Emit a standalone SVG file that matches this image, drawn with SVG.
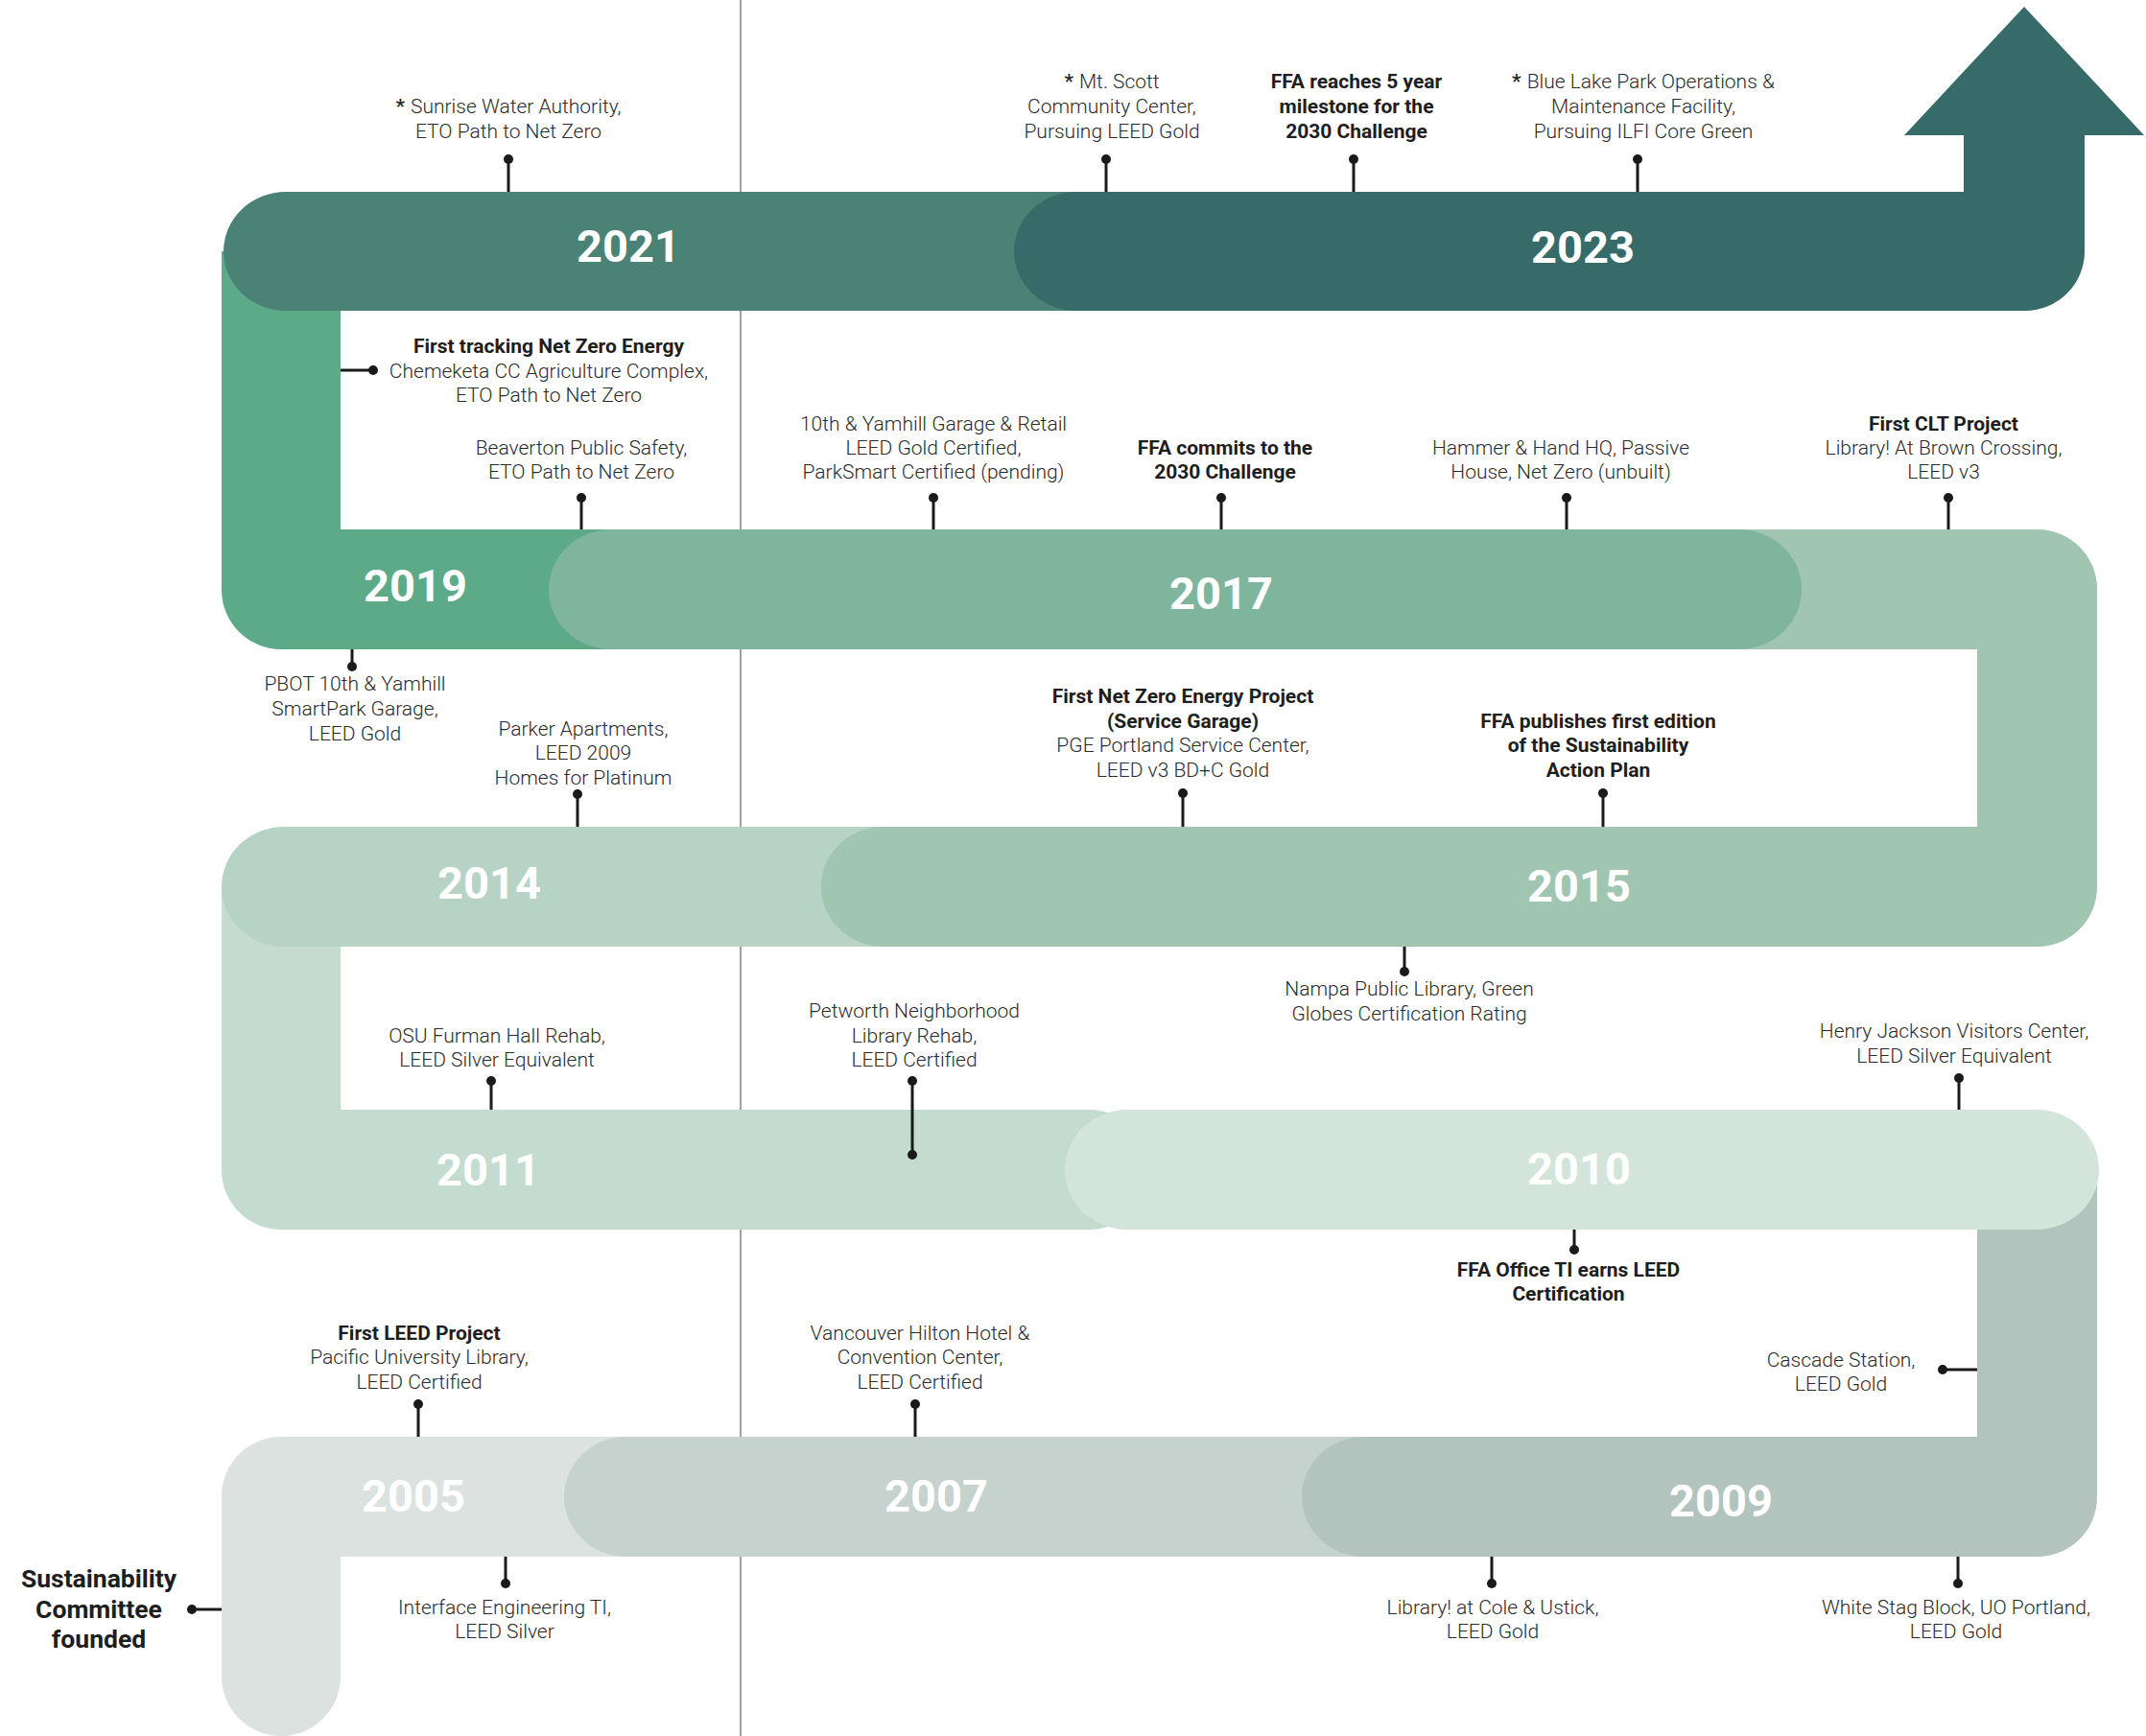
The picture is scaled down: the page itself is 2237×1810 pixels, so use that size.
<svg xmlns="http://www.w3.org/2000/svg" width="2237" height="1810" viewBox="0 0 2237 1810">
<style>
.yr{font-family:Roboto,"Liberation Sans",sans-serif;font-weight:700;font-size:47px;fill:#ffffff;text-anchor:middle}
.lb{font-family:Roboto,"Liberation Sans",sans-serif;font-weight:300;font-size:21px;fill:#2b2b2b;text-anchor:middle}
.bd{font-family:Roboto,"Liberation Sans",sans-serif;font-weight:700;font-size:21px;fill:#1e1e1e;text-anchor:middle}
.big{font-family:Roboto,"Liberation Sans",sans-serif;font-weight:700;font-size:26.5px;fill:#1e1e1e;text-anchor:middle}
.ast{font-weight:700}
.cn{stroke:#1a1a1a;stroke-width:3;fill:none}
.dot{fill:#1a1a1a}
.div{stroke:#8a8a8a;stroke-width:1.6}
</style>
<rect width="2237" height="1810" fill="#ffffff"/>
<line class="div" x1="772" y1="0" x2="772" y2="1810"/>
<g id="bands">
<g id="y2005"><path fill="#dbe2df" d="M231,1560 A62,62 0 0 1 293,1498 H700 V1623 H355 V1748 A62,62 0 0 1 231,1748 Z"/><text class="yr" x="431" y="1576">2005</text></g>
<g id="y2007"><path fill="#c6d2ce" d="M653,1498 H1420 V1623 H653 A65,62.5 0 0 1 653,1498 Z"/><text class="yr" x="976" y="1576">2007</text></g>
<g id="y2009"><path fill="#b3c4be" d="M1422,1498 H2061 V1218 H2186 V1561 A62,62 0 0 1 2124,1623 H1422 A65,62.5 0 0 1 1422,1498 Z"/><text class="yr" x="1794" y="1581">2009</text></g>
<g id="y2011"><path fill="#c4dcd0" d="M231,924 H355 V1157 H1135 A65,62.5 0 0 1 1135,1282 H293 A62,62 0 0 1 231,1220 Z"/><text class="yr" x="509" y="1236">2011</text></g>
<g id="y2010"><path fill="#d3e4da" d="M1175,1157 H2123 A65,62.5 0 0 1 2123,1282 H1175 A65,62.5 0 0 1 1175,1157 Z"/><text class="yr" x="1646" y="1235">2010</text></g>
<g id="y2014"><path fill="#b6d3c5" d="M296,862 H950 V987 H296 A65,62.5 0 0 1 296,862 Z"/><text class="yr" x="510" y="937">2014</text></g>
<g id="y2015"><path fill="#a0c5b0" d="M921,862 H2061 V677 H1800 V552 H2124 A62,62 0 0 1 2186,614 V925 A62,62 0 0 1 2124,987 H921 A65,62.5 0 0 1 921,862 Z"/><text class="yr" x="1646" y="940">2015</text></g>
<g id="y2019"><path fill="#5daa88" d="M231,262 H355 V552 H700 V677 H293 A62,62 0 0 1 231,615 Z"/><text class="yr" x="433" y="627">2019</text></g>
<g id="y2017"><path fill="#80b59d" d="M637,552 H1813 A65,62.5 0 0 1 1813,677 H637 A65,62.5 0 0 1 637,552 Z"/><text class="yr" x="1273" y="635">2017</text></g>
<g id="y2021"><path fill="#4b8276" d="M298,200 H1200 V324 H298 A65,62 0 0 1 298,200 Z"/><text class="yr" x="655" y="273">2021</text></g>
<g id="y2023"><path fill="#366b6a" d="M1122,200 H2047 V141 H1985 L2110,7 L2235,141 H2173 V262 A62,62 0 0 1 2111,324 H1122 A65,62 0 0 1 1122,200 Z"/><text class="yr" x="1650" y="274">2023</text></g>
</g>
<g id="connectors">
<line class="cn" x1="530" y1="166" x2="530" y2="200"/><circle class="dot" cx="530" cy="166" r="5"/>
<line class="cn" x1="1153" y1="166" x2="1153" y2="200"/><circle class="dot" cx="1153" cy="166" r="5"/>
<line class="cn" x1="1411" y1="166" x2="1411" y2="200"/><circle class="dot" cx="1411" cy="166" r="5"/>
<line class="cn" x1="1707" y1="166" x2="1707" y2="200"/><circle class="dot" cx="1707" cy="166" r="5"/>
<line class="cn" x1="355" y1="386" x2="389" y2="386"/><circle class="dot" cx="389" cy="386" r="5"/>
<line class="cn" x1="606" y1="519" x2="606" y2="552"/><circle class="dot" cx="606" cy="519" r="5"/>
<line class="cn" x1="973" y1="519" x2="973" y2="552"/><circle class="dot" cx="973" cy="519" r="5"/>
<line class="cn" x1="1273" y1="519" x2="1273" y2="552"/><circle class="dot" cx="1273" cy="519" r="5"/>
<line class="cn" x1="1633" y1="519" x2="1633" y2="552"/><circle class="dot" cx="1633" cy="519" r="5"/>
<line class="cn" x1="2031" y1="519" x2="2031" y2="552"/><circle class="dot" cx="2031" cy="519" r="5"/>
<line class="cn" x1="367" y1="677" x2="367" y2="695"/><circle class="dot" cx="367" cy="695" r="5"/>
<line class="cn" x1="602" y1="828" x2="602" y2="862"/><circle class="dot" cx="602" cy="828" r="5"/>
<line class="cn" x1="1233" y1="827" x2="1233" y2="862"/><circle class="dot" cx="1233" cy="827" r="5"/>
<line class="cn" x1="1671" y1="827" x2="1671" y2="862"/><circle class="dot" cx="1671" cy="827" r="5"/>
<line class="cn" x1="1464" y1="987" x2="1464" y2="1013"/><circle class="dot" cx="1464" cy="1013" r="5"/>
<line class="cn" x1="512" y1="1127" x2="512" y2="1157"/><circle class="dot" cx="512" cy="1127" r="5"/>
<line class="cn" x1="951" y1="1127" x2="951" y2="1204"/><circle class="dot" cx="951" cy="1127" r="5"/><circle class="dot" cx="951" cy="1204" r="5"/>
<line class="cn" x1="2042" y1="1124" x2="2042" y2="1157"/><circle class="dot" cx="2042" cy="1124" r="5"/>
<line class="cn" x1="1641" y1="1282" x2="1641" y2="1303"/><circle class="dot" cx="1641" cy="1303" r="5"/>
<line class="cn" x1="2025" y1="1428" x2="2061" y2="1428"/><circle class="dot" cx="2025" cy="1428" r="5"/>
<line class="cn" x1="436" y1="1464" x2="436" y2="1498"/><circle class="dot" cx="436" cy="1464" r="5"/>
<line class="cn" x1="954" y1="1464" x2="954" y2="1498"/><circle class="dot" cx="954" cy="1464" r="5"/>
<line class="cn" x1="527" y1="1623" x2="527" y2="1651"/><circle class="dot" cx="527" cy="1651" r="5"/>
<line class="cn" x1="1555" y1="1623" x2="1555" y2="1651"/><circle class="dot" cx="1555" cy="1651" r="5"/>
<line class="cn" x1="2041" y1="1623" x2="2041" y2="1651"/><circle class="dot" cx="2041" cy="1651" r="5"/>
<line class="cn" x1="200" y1="1678" x2="231" y2="1678"/><circle class="dot" cx="200" cy="1678" r="5"/>
</g>
<g id="e-sunrise"><text class="lb" x="530" y="118"><tspan class="ast">*</tspan><tspan dx="6">Sunrise Water Authority,</tspan></text><text class="lb" x="530" y="144">ETO Path to Net Zero</text></g>
<g id="e-mtscott"><text class="lb" x="1159" y="92"><tspan class="ast">*</tspan><tspan dx="6">Mt. Scott</tspan></text><text class="lb" x="1159" y="118">Community Center,</text><text class="lb" x="1159" y="144">Pursuing LEED Gold</text></g>
<g id="e-ffa5"><text class="bd" x="1414" y="92">FFA reaches 5 year</text><text class="bd" x="1414" y="118">milestone for the</text><text class="bd" x="1414" y="144">2030 Challenge</text></g>
<g id="e-bluelake"><text class="lb" x="1713" y="92"><tspan class="ast">*</tspan><tspan dx="6">Blue Lake Park Operations &amp;</tspan></text><text class="lb" x="1713" y="118">Maintenance Facility,</text><text class="lb" x="1713" y="144">Pursuing ILFI Core Green</text></g>
<g id="e-chemeketa"><text class="bd" x="572" y="368">First tracking Net Zero Energy</text><text class="lb" x="572" y="394">Chemeketa CC Agriculture Complex,</text><text class="lb" x="572" y="419">ETO Path to Net Zero</text></g>
<g id="e-beaverton"><text class="lb" x="606" y="474">Beaverton Public Safety,</text><text class="lb" x="606" y="499">ETO Path to Net Zero</text></g>
<g id="e-yamhill"><text class="lb" x="973" y="449">10th &amp; Yamhill Garage &amp; Retail</text><text class="lb" x="973" y="474">LEED Gold Certified,</text><text class="lb" x="973" y="499">ParkSmart Certified (pending)</text></g>
<g id="e-commits"><text class="bd" x="1277" y="474">FFA commits to the</text><text class="bd" x="1277" y="499">2030 Challenge</text></g>
<g id="e-hammer"><text class="lb" x="1627" y="474">Hammer &amp; Hand HQ, Passive</text><text class="lb" x="1627" y="499">House, Net Zero (unbuilt)</text></g>
<g id="e-clt"><text class="bd" x="2026" y="449">First CLT Project</text><text class="lb" x="2026" y="474">Library! At Brown Crossing,</text><text class="lb" x="2026" y="499">LEED v3</text></g>
<g id="e-pbot"><text class="lb" x="370" y="720">PBOT 10th &amp; Yamhill</text><text class="lb" x="370" y="746">SmartPark Garage,</text><text class="lb" x="370" y="772">LEED Gold</text></g>
<g id="e-parker"><text class="lb" x="608" y="767">Parker Apartments,</text><text class="lb" x="608" y="792">LEED 2009</text><text class="lb" x="608" y="818">Homes for Platinum</text></g>
<g id="e-pge"><text class="bd" x="1233" y="733">First Net Zero Energy Project</text><text class="bd" x="1233" y="759">(Service Garage)</text><text class="lb" x="1233" y="784">PGE Portland Service Center,</text><text class="lb" x="1233" y="810">LEED v3 BD+C Gold</text></g>
<g id="e-sap"><text class="bd" x="1666" y="759">FFA publishes first edition</text><text class="bd" x="1666" y="784">of the Sustainability</text><text class="bd" x="1666" y="810">Action Plan</text></g>
<g id="e-nampa"><text class="lb" x="1469" y="1038">Nampa Public Library, Green</text><text class="lb" x="1469" y="1064">Globes Certification Rating</text></g>
<g id="e-osu"><text class="lb" x="518" y="1087">OSU Furman Hall Rehab,</text><text class="lb" x="518" y="1112">LEED Silver Equivalent</text></g>
<g id="e-petworth"><text class="lb" x="953" y="1061">Petworth Neighborhood</text><text class="lb" x="953" y="1087">Library Rehab,</text><text class="lb" x="953" y="1112">LEED Certified</text></g>
<g id="e-henry"><text class="lb" x="2037" y="1082">Henry Jackson Visitors Center,</text><text class="lb" x="2037" y="1108">LEED Silver Equivalent</text></g>
<g id="e-officeti"><text class="bd" x="1635" y="1331">FFA Office TI earns LEED</text><text class="bd" x="1635" y="1356">Certification</text></g>
<g id="e-cascade"><text class="lb" x="1919" y="1425">Cascade Station,</text><text class="lb" x="1919" y="1450">LEED Gold</text></g>
<g id="e-pacific"><text class="bd" x="437" y="1397">First LEED Project</text><text class="lb" x="437" y="1422">Pacific University Library,</text><text class="lb" x="437" y="1448">LEED Certified</text></g>
<g id="e-vancouver"><text class="lb" x="959" y="1397">Vancouver Hilton Hotel &amp;</text><text class="lb" x="959" y="1422">Convention Center,</text><text class="lb" x="959" y="1448">LEED Certified</text></g>
<g id="e-interface"><text class="lb" x="526" y="1683">Interface Engineering TI,</text><text class="lb" x="526" y="1708">LEED Silver</text></g>
<g id="e-cole"><text class="lb" x="1556" y="1683">Library! at Cole &amp; Ustick,</text><text class="lb" x="1556" y="1708">LEED Gold</text></g>
<g id="e-whitestag"><text class="lb" x="2039" y="1683">White Stag Block, UO Portland,</text><text class="lb" x="2039" y="1708">LEED Gold</text></g>
<g id="e-committee"><text class="big" x="103" y="1655">Sustainability</text><text class="big" x="103" y="1687">Committee</text><text class="big" x="103" y="1718">founded</text></g>
</svg>
